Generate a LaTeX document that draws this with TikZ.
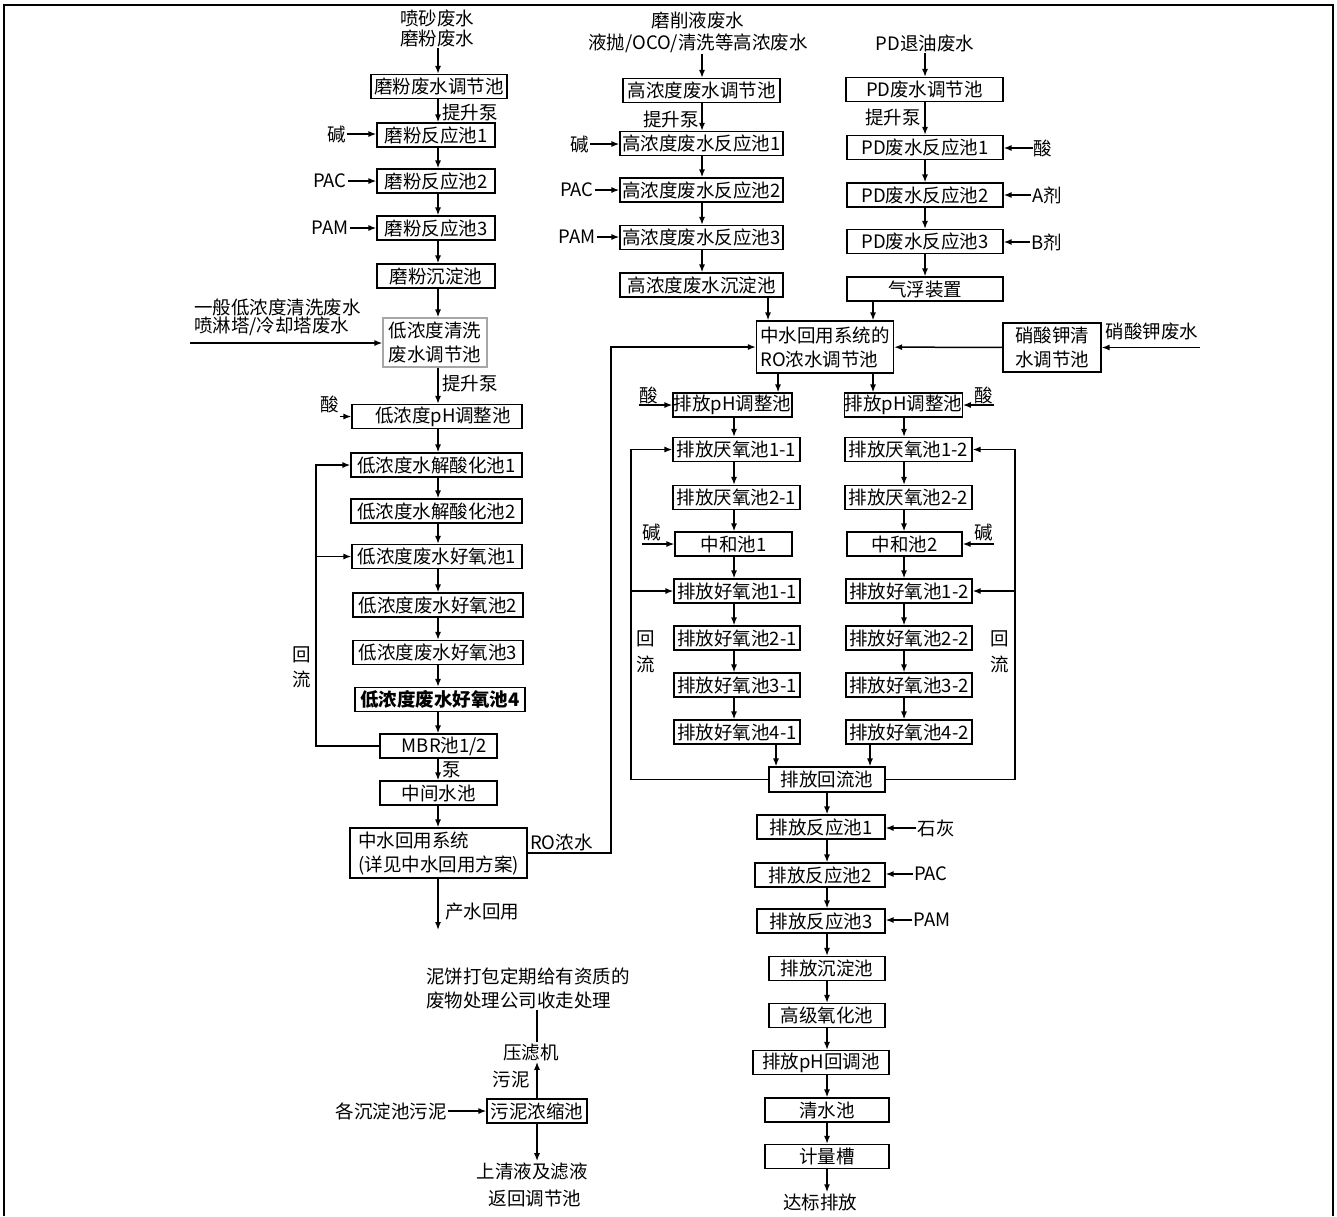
\documentclass[tikz,border=0pt]{standalone}
\usepackage{fontspec}
\setmainfont{Noto Sans CJK SC}
\usetikzlibrary{arrows.meta}

\begin{document}
\begin{tikzpicture}[x=1pt, y=-1pt, every node/.style={font=\fontsize{18.5}{24}\selectfont}]
  \tikzstyle{pool}=[draw, line width=1.1pt, minimum height=24, inner sep=0pt, align=center]
  \tikzstyle{flow}=[-{Latex[length=8pt,width=6pt]}, line width=1.5pt]
  \tikzstyle{pipe}=[line width=1.5pt]
  \tikzstyle{tag}=[inner sep=1pt, align=center]
  \useasboundingbox (0,0) rectangle (1337,1216);
  \draw[line width=1.6pt] (4,1216) -- (4,5) -- (1333,5) -- (1333,1216);
  \coordinate (c1) at (438,0);
  \coordinate (c2) at (702,0);
  \coordinate (c3) at (925,0);
  \coordinate (bx) at (827,0);

  % grinding / low concentration line
  \node[tag, font=\fontsize{18.5}{20}\selectfont] (mfin) at (437,28) {喷砂废水\\磨粉废水};
  \node[pool, minimum width=136] (mftj) at (439,86.5) {磨粉废水调节池};
  \node[pool, minimum width=118] (mf1) at (436,135) {磨粉反应池1};
  \node[pool, minimum width=118] (mf2) at (436,181) {磨粉反应池2};
  \node[pool, minimum width=118] (mf3) at (436,228) {磨粉反应池3};
  \node[pool, minimum width=118] (mfcd) at (436,276) {磨粉沉淀池};
  \node[pool, draw=gray!70, minimum width=104, minimum height=49] (ditj) at (435,342.5) {低浓度清洗\\废水调节池};
  \node[pool, minimum width=170] (dph) at (437,416.5) {\hspace*{12pt}低浓度pH调整池};
  \node[pool, minimum width=171] (ds1) at (436.5,465) {低浓度水解酸化池1};
  \node[pool, minimum width=171] (ds2) at (436.5,511) {低浓度水解酸化池2};
  \node[pool, minimum width=170] (dh1) at (437,556.5) {低浓度废水好氧池1};
  \node[pool, minimum width=170] (dh2) at (438,605) {低浓度废水好氧池2};
  \node[pool, minimum width=170] (dh3) at (438,652.5) {低浓度废水好氧池3};
  \node[pool, minimum width=170] (dh4) at (440,699.5) {\bfseries 低浓度废水好氧池4};
  \node[pool, minimum width=117] (mbr) at (438.5,746) {\hspace*{12pt}MBR池1/2};
  \node[pool, minimum width=117] (zj) at (438.5,793) {中间水池};
  \node[pool, minimum width=177, minimum height=50, align=left] (zs) at (438.5,853) {中水回用系统\\(详见中水回用方案)};
  \draw[flow] (c1 |- mfin.south) -- (c1 |- mftj.north);
  \foreach \a/\b in {mftj/mf1, mf1/mf2, mf2/mf3, mf3/mfcd, mfcd/ditj, ditj/dph, dph/ds1, ds1/ds2, ds2/dh1, dh1/dh2, dh2/dh3, dh3/dh4, dh4/mbr, mbr/zj, zj/zs}
    \draw[flow] (c1 |- \a.south) -- (c1 |- \b.north);
  \node[tag, anchor=west] at (441,112) {提升泵};
  \node[tag, anchor=west] at (441,383) {提升泵};
  \node[tag, anchor=west] at (441,770) {泵};
  \node[tag] (mfk) at (337,134) {碱};
  \node[tag] (mfpac) at (330,181) {PAC};
  \node[tag] (mfpam) at (330,228) {PAM};
  \draw[flow] (mfk.east) -- (mfk.east -| mf1.west);
  \draw[flow] (mfpac.east) -- (mfpac.east -| mf2.west);
  \draw[flow] (mfpam.east) -- (mfpam.east -| mf3.west);
  \node[tag, anchor=north west, align=left, font=\fontsize{18.5}{18}\selectfont] (diin) at (193,298) {一般低浓度清洗废水\\喷淋塔/冷却塔废水};
  \coordinate (dil) at (190,343);
  \draw[flow] (dil) -- (dil -| ditj.west);
  \node[tag] (dsa) at (330,404) {酸};
  \draw[flow] (dsa.south east |- dph.west) -- (dph.west);
  % return loop
  \coordinate (lp) at (316,0);
  \draw[flow] (mbr.west) -| (lp |- ds1.west) -- (ds1.west);
  \draw[flow] (lp |- dh1.west) -- (dh1.west);
  \node[tag, font=\fontsize{18.5}{25}\selectfont] at (302,667) {回\\流};
  \coordinate (cs) at (438,930);
  \draw[flow] (c1 |- zs.south) -- (cs);
  \node[tag, anchor=west] at (444,912) {产水回用};

  % high concentration line
  \node[tag, font=\fontsize{18.5}{22}\selectfont] (gin) at (698,32) {磨削液废水\\液抛/OCO/清洗等高浓废水};
  \node[pool, minimum width=157] (gtj) at (701.5,90.5) {高浓度废水调节池};
  \node[pool, minimum width=163] (g1) at (701.5,143.5) {高浓度废水反应池1};
  \node[pool, minimum width=163] (g2) at (701.5,190) {高浓度废水反应池2};
  \node[pool, minimum width=163] (g3) at (701.5,237.5) {高浓度废水反应池3};
  \node[pool, minimum width=163] (gcd) at (701.5,285) {高浓度废水沉淀池};
  \draw[flow] (c2 |- gin.south) -- (c2 |- gtj.north);
  \foreach \a/\b in {gtj/g1, g1/g2, g2/g3, g3/gcd}
    \draw[flow] (c2 |- \a.south) -- (c2 |- \b.north);
  \node[tag, anchor=east] at (700,119) {提升泵};
  \node[tag] (gk) at (580,144) {碱};
  \node[tag] (gpac) at (577,190) {PAC};
  \node[tag] (gpam) at (577,237) {PAM};
  \draw[flow] (gk.east) -- (gk.east -| g1.west);
  \draw[flow] (gpac.east) -- (gpac.east -| g2.west);
  \draw[flow] (gpam.east) -- (gpam.east -| g3.west);

  % PD line
  \node[tag] (pin) at (925,43) {PD退油废水};
  \node[pool, minimum width=157] (ptj) at (924.5,89.5) {PD废水调节池};
  \node[pool, minimum width=156] (p1) at (925,147.5) {PD废水反应池1};
  \node[pool, minimum width=156] (p2) at (925,195) {PD废水反应池2};
  \node[pool, minimum width=156] (p3) at (925,241.5) {PD废水反应池3};
  \node[pool, minimum width=156] (qf) at (925,289) {气浮装置};
  \draw[flow] (c3 |- pin.south) -- (c3 |- ptj.north);
  \foreach \a/\b in {ptj/p1, p1/p2, p2/p3, p3/qf}
    \draw[flow] (c3 |- \a.south) -- (c3 |- \b.north);
  \node[tag, anchor=east] at (922,117) {提升泵};
  \node[tag] (psa) at (1043,148) {酸};
  \node[tag] (pa) at (1047,195) {A剂};
  \node[tag] (pb) at (1047,242) {B剂};
  \draw[flow] (psa.west) -- (psa.west -| p1.east);
  \draw[flow] (pa.west) -- (pa.west -| p2.east);
  \draw[flow] (pb.west) -- (pb.west -| p3.east);

  % RO concentrate equalization
  \node[pool, minimum width=137, minimum height=52, align=left] (rotj) at (825,347) {中水回用系统的\\RO浓水调节池};
  \node[pool, minimum width=98, minimum height=49] (kno) at (1052,347.5) {硝酸钾清\\水调节池};
  \node[tag] (knotxt) at (1152,331) {硝酸钾废水};
  \coordinate (knin) at (1200,347.5);
  \draw[flow] (knin) -- (kno.east);
  \draw[flow] (kno) -- (rotj);
  \coordinate (g2r) at (768,0);
  \coordinate (p2r) at (873,0);
  \draw[flow] (g2r |- gcd.south) -- (g2r |- rotj.north);
  \draw[flow] (p2r |- qf.south) -- (p2r |- rotj.north);
  \coordinate (rox) at (611,0);
  \draw[flow] (zs.east) -| (rox |- rotj.west) -- (rotj.west);
  \node[tag, anchor=west] at (529,842) {RO浓水};

  % discharge branches
  \node[pool, minimum width=119] (lph) at (732.5,405) {排放pH调整池};
  \node[pool, minimum width=127] (la1) at (736.5,449.5) {排放厌氧池1-1};
  \node[pool, minimum width=127] (la2) at (736.5,497.5) {排放厌氧池2-1};
  \node[pool, minimum width=117] (lz) at (733.5,544) {中和池1};
  \node[pool, minimum width=126] (lo1) at (737,591) {排放好氧池1-1};
  \node[pool, minimum width=126] (lo2) at (737,638) {排放好氧池2-1};
  \node[pool, minimum width=126] (lo3) at (737,685) {排放好氧池3-1};
  \node[pool, minimum width=126] (lo4) at (737,732) {排放好氧池4-1};
  \node[pool, minimum width=117] (rph) at (903.5,405) {排放pH调整池};
  \node[pool, minimum width=127] (ra1) at (908.5,449.5) {排放厌氧池1-2};
  \node[pool, minimum width=127] (ra2) at (908.5,497.5) {排放厌氧池2-2};
  \node[pool, minimum width=115] (rz) at (904.5,544) {中和池2};
  \node[pool, minimum width=126] (ro1) at (909,591) {排放好氧池1-2};
  \node[pool, minimum width=126] (ro2) at (909,638) {排放好氧池2-2};
  \node[pool, minimum width=126] (ro3) at (909,685) {排放好氧池3-2};
  \node[pool, minimum width=126] (ro4) at (909,732) {排放好氧池4-2};
  \node[pool, minimum width=116, minimum height=25] (hl) at (827,779.5) {排放回流池};
  \coordinate (lx) at (734,0);
  \coordinate (rx) at (904,0);
  \draw[flow] ([xshift=-47]rotj.south) -- ([xshift=-47]rotj.south |- lph.north);
  \draw[flow] ([xshift=48]rotj.south) -- ([xshift=48]rotj.south |- rph.north);
  \foreach \a/\b in {lph/la1, la1/la2, la2/lz, lz/lo1, lo1/lo2, lo2/lo3, lo3/lo4}
    \draw[flow] (lx |- \a.south) -- (lx |- \b.north);
  \foreach \a/\b in {rph/ra1, ra1/ra2, ra2/rz, rz/ro1, ro1/ro2, ro2/ro3, ro3/ro4}
    \draw[flow] (rx |- \a.south) -- (rx |- \b.north);
  \draw[flow] ([xshift=39]lo4.south) -- ([xshift=39]lo4.south |- hl.north);
  \draw[flow] ([xshift=-39]ro4.south) -- ([xshift=-39]ro4.south |- hl.north);
  \node[tag] (lsa) at (649,395) {酸};
  \node[tag] (lk) at (652,532) {碱};
  \node[tag] (rsa) at (984,395) {酸};
  \node[tag] (rk) at (984,532) {碱};
  \draw[flow] (lsa.south west |- lph.west) -- (lph.west);
  \draw[flow] (lk.south west |- lz.west) -- (lz.west);
  \draw[flow] (rsa.south east |- rph.east) -- (rph.east);
  \draw[flow] (rk.south east |- rz.east) -- (rz.east);
  % return loops
  \coordinate (llp) at (631,0);
  \coordinate (rlp) at (1015,0);
  \draw[flow] (hl.west) -| (llp |- la1.west) -- (la1.west);
  \draw[flow] (llp |- lo1.west) -- (lo1.west);
  \draw[flow] (hl.east) -| (rlp |- ra1.east) -- (ra1.east);
  \draw[flow] (rlp |- ro1.east) -- (ro1.east);
  \node[tag, font=\fontsize{18.5}{26}\selectfont] at (646,652) {回\\流};
  \node[tag, font=\fontsize{18.5}{26}\selectfont] at (1000,652) {回\\流};

  % final treatment
  \node[pool, minimum width=128] (b1) at (821,827) {排放反应池1};
  \node[pool, minimum width=130] (b2) at (820,875) {排放反应池2};
  \node[pool, minimum width=128] (b3) at (821,921) {排放反应池3};
  \node[pool, minimum width=116] (bcd) at (827,968.5) {排放沉淀池};
  \node[pool, minimum width=116] (gy) at (827,1015.5) {高级氧化池};
  \node[pool, minimum width=136] (bph) at (821,1062.5) {排放pH回调池};
  \node[pool, minimum width=124] (qs) at (827,1110) {清水池};
  \node[pool, minimum width=124] (jl) at (827,1156.5) {计量槽};
  \node[tag] (db) at (820,1202) {达标排放};
  \draw[flow] (bx |- hl.south) -- (bx |- b1.north);
  \foreach \a/\b in {b1/b2, b2/b3, b3/bcd, bcd/gy, gy/bph, bph/qs, qs/jl, jl/db}
    \draw[flow] (bx |- \a.south) -- (bx |- \b.north);
  \node[tag] (shh) at (936,828) {石灰};
  \node[tag] (bpac) at (931,874) {PAC};
  \node[tag] (bpam) at (932,920) {PAM};
  \draw[flow] (shh.west) -- (shh.west -| b1.east);
  \draw[flow] (bpac.west) -- (bpac.west -| b2.east);
  \draw[flow] (bpam.west) -- (bpam.west -| b3.east);

  % sludge
  \node[tag, anchor=west, align=left] (nb) at (425,988) {泥饼打包定期给有资质的\\废物处理公司收走处理};
  \node[tag] (ylj) at (531,1052) {压滤机};
  \node[tag] at (511,1080) {污泥};
  \node[pool, minimum width=100] (wn) at (537,1111) {污泥浓缩池};
  \node[tag] (gcwn) at (391,1111) {各沉淀池污泥};
  \node[tag] (sq) at (532,1171) {上清液及滤液};
  \node[tag] at (535,1198) {返回调节池};
  \draw[flow] (gcwn.east) -- (wn.west);
  \draw[flow] (wn.north) -- (wn.north |- ylj.south);
  \draw[pipe] (wn.north |- ylj.north) -- (wn.north |- nb.south);
  \draw[flow] (wn.south) -- (wn.south |- sq.north);
\end{tikzpicture}
\end{document}
